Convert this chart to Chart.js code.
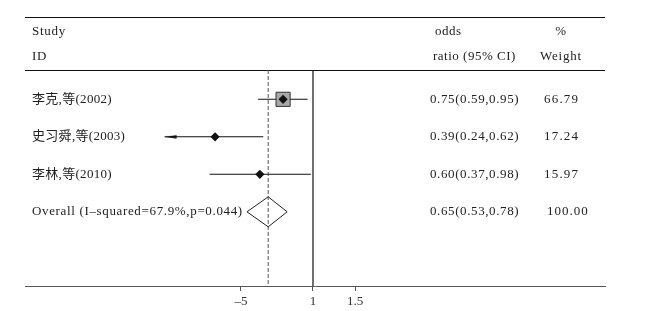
<!DOCTYPE html>
<html>
<head>
<meta charset="utf-8">
<script src="https://cdn.jsdelivr.net/npm/chart.js@4/dist/chart.umd.min.js"></script>
<style>
  html, body { margin: 0; padding: 0; background: #fff; }
  #wrap { position: relative; width: 650px; height: 311px; }
</style>
</head>
<body>
<div id="wrap"><canvas id="c"></canvas></div>
<script>
// ---- data ----
const STUDIES = ['李克,等(2002)', '史习舜,等(2003)', '李林,等(2010)'];
const OR_VALUES = [0.75, 0.39, 0.60];
const CI_LOW = [0.59, 0.24, 0.37];
const CI_HIGH = [0.95, 0.62, 0.98];
const WEIGHTS = [66.79, 17.24, 15.97];
const OVERALL_LABEL = 'Overall (I–squared=67.9%,p=0.044)';
const OVERALL_OR = [0.65];
const OVERALL_CI_LOW = [0.53];
const OVERALL_CI_HIGH = [0.78];
const OVERALL_WEIGHT = [100.00];
const TICK_VALUES = [0.5, 1, 1.5];
const TICK_LABELS = ['–5', '1', '1.5'];
const HEADER_LEFT = ['Study', 'ID'];
const HEADER_OR = ['odds', 'ratio (95% CI)'];
const HEADER_WEIGHT = ['%', 'Weight'];

// ---- layout (scale units) ----
const Y_MIN = -1.195, Y_MAX = 5.978;
const HEADER_LINE_Y = 0.218;
const HEADER_ROW_Y = [-0.795, -0.128];
const OVERALL_ROW = STUDIES.length + 1;
const X_MIN = 0.06272, X_MAX = 16.57;

const SERIF = '"Liberation Serif", "Times New Roman", "Noto Sans CJK SC", serif';
const TXT = '#222';

// arrow image (points left, tip at centre)
const arrow = document.createElement('canvas');
arrow.width = 26; arrow.height = 8;
(function () {
  const g = arrow.getContext('2d');
  g.fillStyle = '#111';
  g.beginPath();
  g.moveTo(13, 4); g.lineTo(25, 2.2); g.lineTo(25, 5.8); g.closePath(); g.fill();
})();

const rows = STUDIES.map((s, i) => i + 1);

const datasets = [];
// point estimates (diamonds)
datasets.push({
  data: OR_VALUES.map((v, i) => ({ x: v, y: rows[i] })),
  pointStyle: 'rectRot', pointRadius: 4.6, backgroundColor: '#111', borderColor: '#111', borderWidth: 0
});
// weight boxes
datasets.push({
  data: OR_VALUES.map((v, i) => ({ x: v, y: rows[i] })),
  pointStyle: 'rect',
  pointRadius: WEIGHTS.map(w => 10 * w / Math.max(...WEIGHTS)),
  backgroundColor: '#a8a8a8', borderColor: '#333', borderWidth: 1
});
// arrow for truncated CI of study 2
datasets.push({
  data: [{ x: CI_LOW[1], y: rows[1] }],
  pointStyle: arrow, pointRadius: 6
});
// CI lines
STUDIES.forEach((s, i) => {
  datasets.push({
    data: [{ x: CI_LOW[i], y: rows[i] }, { x: CI_HIGH[i], y: rows[i] }],
    showLine: true, pointRadius: 0, borderColor: '#111', borderWidth: 1.1
  });
});
// overall diamond
datasets.push({
  data: [
    { x: OVERALL_CI_LOW[0], y: OVERALL_ROW },
    { x: OVERALL_OR[0], y: OVERALL_ROW - 0.4 },
    { x: OVERALL_CI_HIGH[0], y: OVERALL_ROW },
    { x: OVERALL_OR[0], y: OVERALL_ROW + 0.4 },
    { x: OVERALL_CI_LOW[0], y: OVERALL_ROW }
  ],
  showLine: true, pointRadius: 0, borderColor: '#222', borderWidth: 1, fill: false, tension: 0
});
// dashed overall line
datasets.push({
  data: [{ x: OVERALL_OR[0], y: HEADER_LINE_Y }, { x: OVERALL_OR[0], y: Y_MAX }],
  showLine: true, pointRadius: 0, borderColor: '#555', borderWidth: 1, borderDash: [4, 2]
});
// null line at 1
datasets.push({
  data: [{ x: 1, y: HEADER_LINE_Y }, { x: 1, y: Y_MAX }],
  showLine: true, pointRadius: 0, borderColor: '#111', borderWidth: 1.2
});

const framePlugin = {
  id: 'frame',
  beforeDatasetsDraw(chart) {
    const { ctx, chartArea: a, scales: { y } } = chart;
    ctx.save();
    ctx.strokeStyle = '#111';
    ctx.lineWidth = 1;
    ctx.beginPath();
    ctx.moveTo(a.left, a.top + 0.5); ctx.lineTo(a.right, a.top + 0.5);
    const hy = Math.round(y.getPixelForValue(HEADER_LINE_Y)) + 0.5;
    ctx.moveTo(a.left, hy); ctx.lineTo(a.right, hy);
    ctx.stroke();
    ctx.restore();
  },
  afterDraw(chart) {
    const { ctx, chartArea: a, scales: { y } } = chart;
    ctx.save();
    ctx.fillStyle = TXT;
    ctx.textBaseline = 'middle';
    ctx.font = '13px ' + SERIF;
    const xLab = a.left + 7, xOR = a.left + 405, xW = a.left + 519, xWc = a.left + 536;
    const sp = v => { ctx.letterSpacing = v + 'px'; };
    // headers
    ctx.textAlign = 'left';
    sp(0.7);
    HEADER_LEFT.forEach((t, i) => ctx.fillText(t, xLab, y.getPixelForValue(HEADER_ROW_Y[i])));
    sp(0.5);
    ctx.fillText(HEADER_OR[0], xOR + 5, y.getPixelForValue(HEADER_ROW_Y[0]));
    ctx.fillText(HEADER_OR[1], xOR + 3, y.getPixelForValue(HEADER_ROW_Y[1]));
    ctx.textAlign = 'center';
    sp(0.8);
    HEADER_WEIGHT.forEach((t, i) => ctx.fillText(t, xWc, y.getPixelForValue(HEADER_ROW_Y[i])));
    // rows
    ctx.textAlign = 'left';
    STUDIES.forEach((s, i) => {
      const py = y.getPixelForValue(rows[i]);
      sp(0.3);
      ctx.fillText(s, xLab, py);
      sp(0.6);
      ctx.fillText(`${OR_VALUES[i].toFixed(2)}(${CI_LOW[i].toFixed(2)},${CI_HIGH[i].toFixed(2)})`, xOR, py);
      sp(1.2);
      ctx.fillText(WEIGHTS[i].toFixed(2), xW, py);
    });
    const po = y.getPixelForValue(OVERALL_ROW);
    sp(0.65);
    ctx.fillText(OVERALL_LABEL, xLab, po);
    sp(0.6);
    ctx.fillText(`${OVERALL_OR[0].toFixed(2)}(${OVERALL_CI_LOW[0].toFixed(2)},${OVERALL_CI_HIGH[0].toFixed(2)})`, xOR, po);
    sp(1.0);
    ctx.fillText(OVERALL_WEIGHT[0].toFixed(2), xW + 3, po);
    ctx.restore();
  }
};

new Chart(document.getElementById('c'), {
  type: 'scatter',
  data: { datasets },
  options: {
    responsive: true,
    maintainAspectRatio: false,
    animation: false,
    events: [],
    layout: { padding: { left: 25, right: 45, top: 17, bottom: 0 } },
    plugins: { legend: { display: false }, tooltip: { enabled: false } },
    scales: {
      x: {
        type: 'logarithmic',
        min: X_MIN, max: X_MAX,
        afterBuildTicks(scale) { scale.ticks = TICK_VALUES.map(v => ({ value: v })); },
        afterFit(scale) { scale.height = 25; },
        ticks: {
          autoSkip: false, maxRotation: 0, padding: 3,
          color: '#333',
          font: { family: SERIF, size: 13 },
          callback(v) { const i = TICK_VALUES.indexOf(v); return i >= 0 ? TICK_LABELS[i] : ''; }
        },
        grid: { drawOnChartArea: false, drawTicks: true, tickLength: 5, color: '#555' },
        border: { display: true, color: '#555', width: 1 }
      },
      y: {
        type: 'linear', reverse: true, min: Y_MIN, max: Y_MAX, display: false
      }
    }
  },
  plugins: [framePlugin]
});
</script>
</body>
</html>
